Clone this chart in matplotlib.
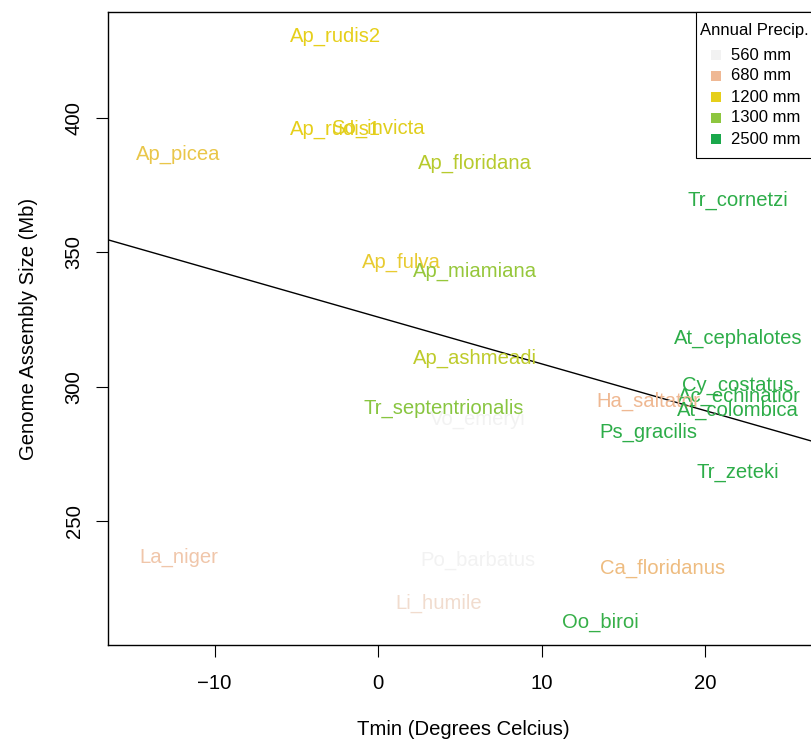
import numpy as np
import matplotlib
matplotlib.use("Agg")
import matplotlib.pyplot as plt
from matplotlib.colors import LinearSegmentedColormap
from matplotlib.patches import Rectangle
from matplotlib.transforms import offset_copy

plt.rcParams['font.family'] = ['Liberation Sans', 'DejaVu Sans']

# species labels, min temperature, genome size and estimated annual precipitation
species = ['Ap_rudis2', 'Ap_rudis1', 'So_invicta', 'Ap_picea', 'Ap_floridana',
           'Tr_cornetzi', 'Ap_fulva', 'Ap_miamiana', 'At_cephalotes', 'Ap_ashmeadi',
           'Cy_costatus', 'Ac_echinatior', 'Ha_saltator', 'At_colombica',
           'Tr_septentrionalis', 'Vo_emeryi', 'Ps_gracilis', 'Tr_zeteki',
           'La_niger', 'Po_barbatus', 'Ca_floridanus', 'Li_humile', 'Oo_biroi']
tmin = [-2.6, -2.6, 0.0, -12.2, 5.9,
        22.0, 1.4, 5.9, 22.0, 5.9,
        22.0, 22.1, 16.5, 22.0,
        4.0, 6.1, 16.5, 22.0,
        -12.2, 6.1, 17.4, 3.7, 13.6]
genome = [430.9, 396.3, 396.6, 387.0, 383.6,
          369.9, 346.8, 343.4, 318.5, 311.1,
          301.0, 296.9, 295.0, 291.7,
          292.4, 288.4, 283.5, 268.6,
          237.0, 235.9, 232.9, 219.9, 212.8]
precip = [1200, 1200, 1210, 1000, 1250,
          2300, 1100, 1290, 2300, 1245,
          2300, 2300, 690, 2300,
          1350, 560, 2300, 2300,
          655, 565, 770, 610, 2200]

legend_mm = [560, 680, 1200, 1300, 2500]
legend_cols = ['#f2f2f2', '#efb894', '#e6cf1a', '#8dc63f', '#1aa84b']

# regression line (Genome size ~ Tmin)
fit_intercept = 325.9
fit_slope = -1.74

lo, hi = min(legend_mm), max(legend_mm)
cmap = LinearSegmentedColormap.from_list(
    'precip', [((m - lo) / (hi - lo), c) for m, c in zip(legend_mm, legend_cols)])

W, H = 811, 740
fig = plt.figure(figsize=(W / 100, H / 100), dpi=100)


def fpx(x, y):
    # figure pixel (from top-left) -> figure fraction
    return x / W, 1 - y / H


x_lo, x_hi = -16.52, 26.9
y_lo, y_hi = 203.9, 439.4
px_x = 16.35
left, top, bottom = 108, 12, 645
right = left + (x_hi - x_lo) * px_x
ax = fig.add_axes([left / W, 1 - bottom / H, (right - left) / W, (bottom - top) / H])
ax.set_xlim(x_lo, x_hi)
ax.set_ylim(y_lo, y_hi)

# nudge labels down a little so they centre like R's text()
txt_tr = offset_copy(ax.transData, fig=fig, x=0, y=-0.9, units='points')
for name, x, y, p in zip(species, tmin, genome, precip):
    ax.text(x, y, name, color=cmap((p - lo) / (hi - lo)), fontsize=14.6,
            ha='center', va='center', transform=txt_tr)

ax.axline((0, fit_intercept), slope=fit_slope, color='black', lw=1)

ax.set_xticks([-10, 0, 10, 20])
ax.set_xticklabels(['\u221210', '0', '10', '20'])
ax.set_yticks([250, 300, 350, 400])
ax.tick_params(length=8.6, width=0.8, labelsize=14.6)
ax.tick_params(axis='x', pad=12)
ax.tick_params(axis='y', pad=9)
for lab in ax.get_yticklabels():
    lab.set_rotation(90)
    lab.set_va('center')
for s in ax.spines.values():
    s.set_linewidth(1)

ax.set_xlabel('Tmin (Degrees Celcius)', fontsize=14.6, labelpad=20)
ax.set_ylabel('Genome Assembly Size (Mb)', fontsize=14.6, labelpad=19)

# legend box, drawn by hand like R's legend()
bx0, by0, bx1, by1 = 696, 12, 816, 158
x0, y1 = fpx(bx0, by1)
fig.add_artist(Rectangle((x0, y1), (bx1 - bx0) / W, (by1 - by0) / H,
                         transform=fig.transFigure, facecolor='white',
                         edgecolor='black', lw=0.8, zorder=5))
fig.text(*fpx(754, 30), 'Annual Precip.', fontsize=12, ha='center', va='center', zorder=6)
sq = 9.5
for i, (m, c) in enumerate(zip(legend_mm, legend_cols)):
    yc = 55 + 21 * i
    sx, sy = fpx(716 - sq / 2, yc + sq / 2)
    fig.add_artist(Rectangle((sx, sy), sq / W, sq / H, transform=fig.transFigure,
                             facecolor=c, edgecolor='none', zorder=6))
    fig.text(*fpx(731, yc), f'{m} mm', fontsize=12, ha='left', va='center', zorder=6)

fig.savefig('out.png', dpi=100)
